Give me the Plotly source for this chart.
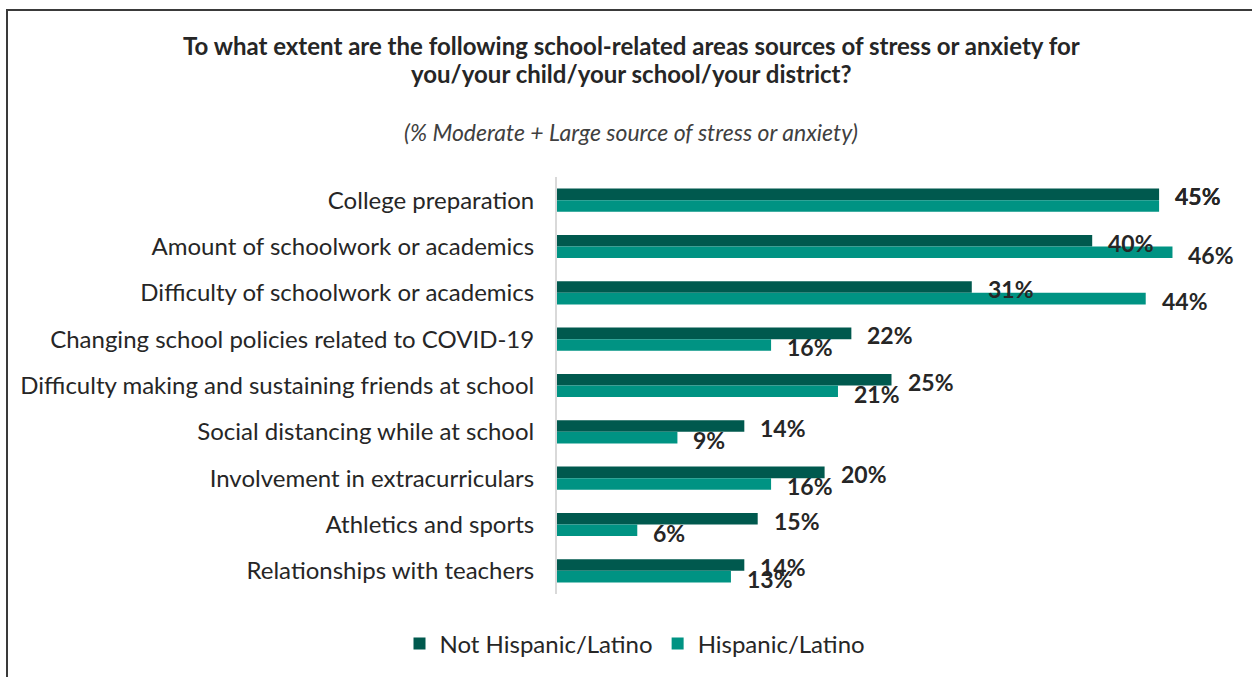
import plotly.graph_objects as go

categories = [
    "College preparation",
    "Amount of schoolwork or academics",
    "Difficulty of schoolwork or academics",
    "Changing school policies related to COVID-19",
    "Difficulty making and sustaining friends at school",
    "Social distancing while at school",
    "Involvement in extracurriculars",
    "Athletics and sports",
    "Relationships with teachers",
]
not_hispanic = [45, 40, 31, 22, 25, 14, 20, 15, 14]
hispanic = [45, 46, 44, 16, 21, 9, 16, 6, 13]
series_names = ["Not Hispanic/Latino", "Hispanic/Latino"]
colors = ["#00594E", "#009383"]

W, H = 1252, 677
L, R, T, B = 557, 26, 177, 83
XMAX = 50
FONT = "Lato"
TXT = "#262626"

fig = go.Figure()
for name, vals, col in zip(series_names, [not_hispanic, hispanic], colors):
    fig.add_trace(go.Bar(
        y=categories, x=vals, name=name, orientation="h",
        marker=dict(color=col, line=dict(width=0)),
    ))

annotations = []
for c, a, b in zip(categories, not_hispanic, hispanic):
    for v, ys in [(a, 4), (b, -8 if b != a else 4)]:
        annotations.append(dict(
            x=v, y=c, xref="x", yref="y", text=f"<b>{v}%</b>",
            showarrow=False, xanchor="left", yanchor="middle",
            xshift=14, yshift=ys,
            font=dict(family=FONT, size=23, color=TXT),
        ))

pw = W - L - R
ph = H - T - B
def px_x(p):
    return (p - L) / pw
def px_y(p):
    return (H - B - p) / ph

annotations += [
    dict(xref="paper", yref="paper", x=px_x(631), y=px_y(45),
         text="<b>To what extent are the following school-related areas sources of stress or anxiety for</b>",
         showarrow=False, xanchor="center", yanchor="middle",
         font=dict(family=FONT, size=24, color=TXT)),
    dict(xref="paper", yref="paper", x=px_x(631), y=px_y(74),
         text="<b>you/your child/your school/your district?</b>",
         showarrow=False, xanchor="center", yanchor="middle",
         font=dict(family=FONT, size=24, color=TXT)),
    dict(xref="paper", yref="paper", x=px_x(631), y=px_y(132),
         text="<i>(% Moderate + Large source of stress or anxiety)</i>",
         showarrow=False, xanchor="center", yanchor="middle",
         font=dict(family=FONT, size=23, color="#404040")),
]

shapes = [dict(type="rect", xref="paper", yref="paper",
               x0=px_x(7), x1=px_x(1262), y0=px_y(690), y1=px_y(10),
               line=dict(color="#3a3a3a", width=2), fillcolor="rgba(0,0,0,0)",
               layer="below")]

fig.update_layout(
    width=W, height=H,
    margin=dict(l=L, r=R, t=T, b=B, autoexpand=False),
    paper_bgcolor="white", plot_bgcolor="white",
    barmode="group", bargap=0.5, bargroupgap=0,
    font=dict(family=FONT, color=TXT),
    xaxis=dict(range=[0, XMAX], showticklabels=False, showgrid=False,
               zeroline=False, showline=False),
    yaxis=dict(autorange="reversed", showgrid=False, zeroline=False,
               showline=True, linecolor="#D9D9D9", linewidth=2,
               ticks="", ticklabelstandoff=16,
               tickfont=dict(family=FONT, size=24, color=TXT)),
    legend=dict(orientation="h", xref="paper", yref="paper",
                x=px_x(635), y=px_y(644), xanchor="center", yanchor="middle",
                font=dict(family=FONT, size=24, color=TXT),
                itemsizing="constant", traceorder="normal", itemwidth=30),
    annotations=annotations,
    shapes=shapes,
)

fig.write_html("out.html", config={"displayModeBar": False},
               post_script="document.body.style.margin='0';")
